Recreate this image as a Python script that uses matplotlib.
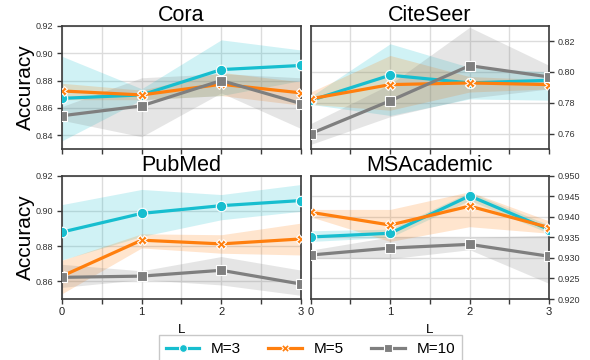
import numpy as np
import matplotlib
matplotlib.use("Agg")
import matplotlib.pyplot as plt

plt.rcParams['font.family'] = ['Liberation Sans', 'DejaVu Sans']

L = [0, 1, 2, 3]
series_names = ["M=3", "M=5", "M=10"]
colors = ["#17becf", "#ff7f0e", "#7f7f7f"]
markers = ["o", "X", "s"]

datasets = ["Cora", "CiteSeer", "PubMed", "MSAcademic"]

# mean values per dataset per series
cora_mean = [[0.867, 0.8695, 0.888, 0.891],
             [0.8724, 0.8695, 0.8773, 0.871],
             [0.8543, 0.8615, 0.880, 0.8632]]
cora_low = [[0.836, 0.866, 0.869, 0.880],
            [0.866, 0.866, 0.869, 0.862],
            [0.851, 0.839, 0.871, 0.845]]
cora_high = [[0.8977, 0.874, 0.9097, 0.9023],
             [0.878, 0.873, 0.886, 0.879],
             [0.861, 0.882, 0.885, 0.882]]

citeseer_mean = [[0.7815, 0.7979, 0.7929, 0.7946],
                 [0.7826, 0.7918, 0.7929, 0.7918],
                 [0.760, 0.7813, 0.8041, 0.7968]]
citeseer_low = [[0.779, 0.7718, 0.7825, 0.7817],
                [0.779, 0.7752, 0.787, 0.789],
                [0.753, 0.771, 0.783, 0.789]]
citeseer_high = [[0.784, 0.8183, 0.803, 0.800],
                 [0.787, 0.8107, 0.797, 0.795],
                 [0.7665, 0.792, 0.829, 0.8043]]

pubmed_mean = [[0.888, 0.8986, 0.903, 0.9059],
               [0.863, 0.8834, 0.8813, 0.8841],
               [0.8623, 0.863, 0.8663, 0.8585]]
pubmed_low = [[0.8722, 0.8855, 0.895, 0.8998],
              [0.853, 0.879, 0.876, 0.875],
              [0.8566, 0.861, 0.858, 0.8521]]
pubmed_high = [[0.9036, 0.9122, 0.9093, 0.915],
               [0.872, 0.887, 0.8865, 0.8931],
               [0.8697, 0.866, 0.8741, 0.8664]]

msa_mean = [[0.9351, 0.9360, 0.9451, 0.9369],
            [0.9411, 0.9380, 0.9426, 0.9374],
            [0.9307, 0.9324, 0.9333, 0.9304]]
msa_low = [[0.934, 0.935, 0.944, 0.936],
           [0.940, 0.934, 0.9376, 0.936],
           [0.930, 0.9298, 0.932, 0.9238]]
msa_high = [[0.9366, 0.937, 0.946, 0.938],
            [0.9418, 0.9418, 0.9461, 0.939],
            [0.9319, 0.9351, 0.935, 0.9355]]

means = [cora_mean, citeseer_mean, pubmed_mean, msa_mean]
lows = [cora_low, citeseer_low, pubmed_low, msa_low]
highs = [cora_high, citeseer_high, pubmed_high, msa_high]

ylims = [(0.83, 0.92), (0.75, 0.83), (0.85, 0.92), (0.92, 0.95)]
yticks = [[0.84, 0.86, 0.88, 0.90, 0.92],
          [0.76, 0.78, 0.80, 0.82],
          [0.86, 0.88, 0.90, 0.92],
          [0.920, 0.925, 0.930, 0.935, 0.940, 0.945, 0.950]]
yfmt = ["%.2f", "%.2f", "%.2f", "%.3f"]

fig = plt.figure(figsize=(5.9, 3.6), dpi=100)
positions = [(0.105, 0.586, 0.405, 0.3425), (0.5266, 0.586, 0.404, 0.3425),
             (0.105, 0.1694, 0.405, 0.3425), (0.5266, 0.1694, 0.404, 0.3425)]

spine_color = "#3a3a3a"
handles = []
for i, name in enumerate(datasets):
    ax = fig.add_axes(positions[i])
    ax.set_axisbelow(True)
    ax.grid(True, color="#dcdcdc", linewidth=1.0)
    for j in range(3):
        ax.fill_between(L, lows[i][j], highs[i][j], color=colors[j], alpha=0.2, linewidth=0)
    for j in range(3):
        h, = ax.plot(L, means[i][j], color=colors[j], marker=markers[j], linewidth=2.3,
                     markersize=7.5 if markers[j] == "o" else 7,
                     markeredgecolor="white", markeredgewidth=0.8, zorder=3)
        if i == 0:
            handles.append(h)
    ax.set_xlim(0, 3)
    ax.set_ylim(*ylims[i])
    ax.set_yticks(yticks[i])
    ax.set_yticklabels([yfmt[i] % v for v in yticks[i]])
    ax.set_xticks(np.arange(0, 3.01, 0.5))
    ax.set_title(name, fontsize=15.5, pad=3)
    for s in ax.spines.values():
        s.set_color(spine_color)
        s.set_linewidth(1.2)
    ax.tick_params(axis='both', colors=spine_color, length=3.5, width=1.0, direction='out')
    ax.tick_params(axis='y', labelsize=6.5, labelcolor="#333333", pad=2.5)
    ax.tick_params(axis='x', labelsize=8, labelcolor="#222222", pad=2.5)
    if i < 2:
        ax.set_xticklabels([])
    else:
        ax.set_xticklabels(["0", "", "1", "", "2", "", "3"])
        ax.set_xlabel("L", fontsize=9.5, labelpad=5)
    if i % 2 == 0:
        ax.set_ylabel("Accuracy", fontsize=15, labelpad=1)
    else:
        ax.yaxis.tick_right()
        ax.yaxis.set_label_position("right")

leg = fig.legend(handles, series_names, loc="upper center", bbox_to_anchor=(0.526, 0.09),
                 ncol=3, fontsize=11, frameon=True, fancybox=False, edgecolor="#bbbbbb",
                 handlelength=2.2, handletextpad=0.75, columnspacing=1.8,
                 borderpad=0.45, markerscale=0.75)
leg.get_frame().set_linewidth(1.0)
fig.savefig("out.png", dpi=100)
